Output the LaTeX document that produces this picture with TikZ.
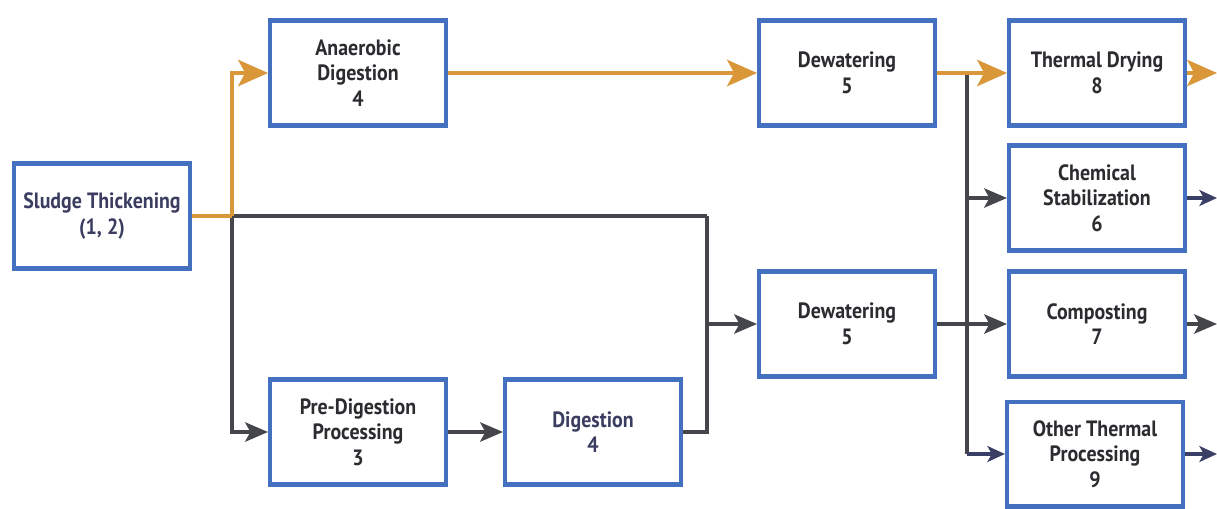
\documentclass[tikz,border=0pt]{standalone}
\usepackage{fontspec}
\setmainfont{PT Sans}[FakeStretch=0.9]
\usetikzlibrary{arrows.meta}

\definecolor{boxblue}{HTML}{4470C0}
\definecolor{sludgeorange}{HTML}{D9973A}
\definecolor{lineGray}{HTML}{45464C}
\definecolor{navyline}{HTML}{3A3F66}
\definecolor{textdark}{HTML}{2B2B30}
\definecolor{textnavy}{HTML}{3A3D60}

\tikzset{
  stage/.style={draw=boxblue, line width=2.3pt, fill=white,
    minimum width=3.52cm, minimum height=2.1cm, align=center,
    font=\bfseries\fontsize{12.6}{14.6}\selectfont, text=textdark},
  orangeflow/.style={draw=sludgeorange, line width=2.2pt},
  orangearrow/.style={orangeflow, -{Stealth[length=17pt,width=15pt,inset=4pt]}},
  grayflow/.style={draw=lineGray, line width=1.9pt},
  grayarrow/.style={grayflow, -{Stealth[length=13pt,width=11pt,inset=3pt]}},
  navyarrow/.style={draw=navyline, line width=1.9pt, -{Stealth[length=10pt,width=9pt,inset=2.5pt]}}
}

\begin{document}
\begin{tikzpicture}[x=0.02cm, y=-0.02cm]
    \useasboundingbox (0,0) rectangle (1217,508);

    % Stages
    \node[stage, text=textnavy] (thick) at (102,216) {Sludge Thickening\\(1, 2)};
    \node[stage] (anaer) at (358,73) {Anaerobic\\Digestion\\4};
    \node[stage] (pre) at (358,432) {Pre-Digestion\\Processing\\3};
    \node[stage, text=textnavy] (dig) at (593,432) {Digestion\\4};
    \node[stage] (dewA) at (847,73) {Dewatering\\5};
    \node[stage] (dewB) at (847,324) {Dewatering\\5};
    \node[stage] (dry) at (1097,73) {Thermal Drying\\8};
    \node[stage] (chem) at (1097,198) {Chemical\\Stabilization\\6};
    \node[stage] (comp) at (1097,324) {Composting\\7};
    \node[stage] (other) at (1095,454) {Other Thermal\\Processing\\9};

    % Junctions
    \coordinate (split) at (232,216);
    \coordinate (merge) at (707,216);
    \coordinate (branch) at (967,73);
    \coordinate (branchEnd) at (branch |- other.west);

    % Outlets at right edge
    \coordinate (outDry) at (1217,73);
    \coordinate (outChem) at (1217,198);
    \coordinate (outComp) at (1217,324);
    \coordinate (outOther) at (1217,454);

    % Non-digested route (gray)
    \draw[grayflow] (split) -- (merge);
    \draw[grayarrow] (split) |- (pre.west);
    \draw[grayarrow] (pre.east) -- (dig.west);
    \draw[grayflow] (dig.east) -| (merge);
    \draw[grayarrow] (merge) |- (dewB.west);

    % Branches after dewatering
    \draw[grayflow] (branch) -- (branchEnd);
    \draw[grayarrow] (branch) |- (chem.west);
    \draw[grayarrow] (dewB.east) -- (comp.west);
    \draw[navyarrow] (branchEnd) -- (other.west);

    % Anaerobic route (orange)
    \draw[orangeflow] (thick.east) -- (split);
    \draw[orangearrow] (split) |- (anaer.west);
    \draw[orangearrow] (anaer.east) -- (dewA.west);
    \draw[orangearrow] (dewA.east) -- (dry.west);

    % Outlets
    \draw[orangearrow] (dry.east) -- (outDry);
    \draw[navyarrow] (chem.east) -- (outChem);
    \draw[grayarrow] (comp.east) -- (outComp);
    \draw[navyarrow] (other.east) -- (outOther);
\end{tikzpicture}
\end{document}
